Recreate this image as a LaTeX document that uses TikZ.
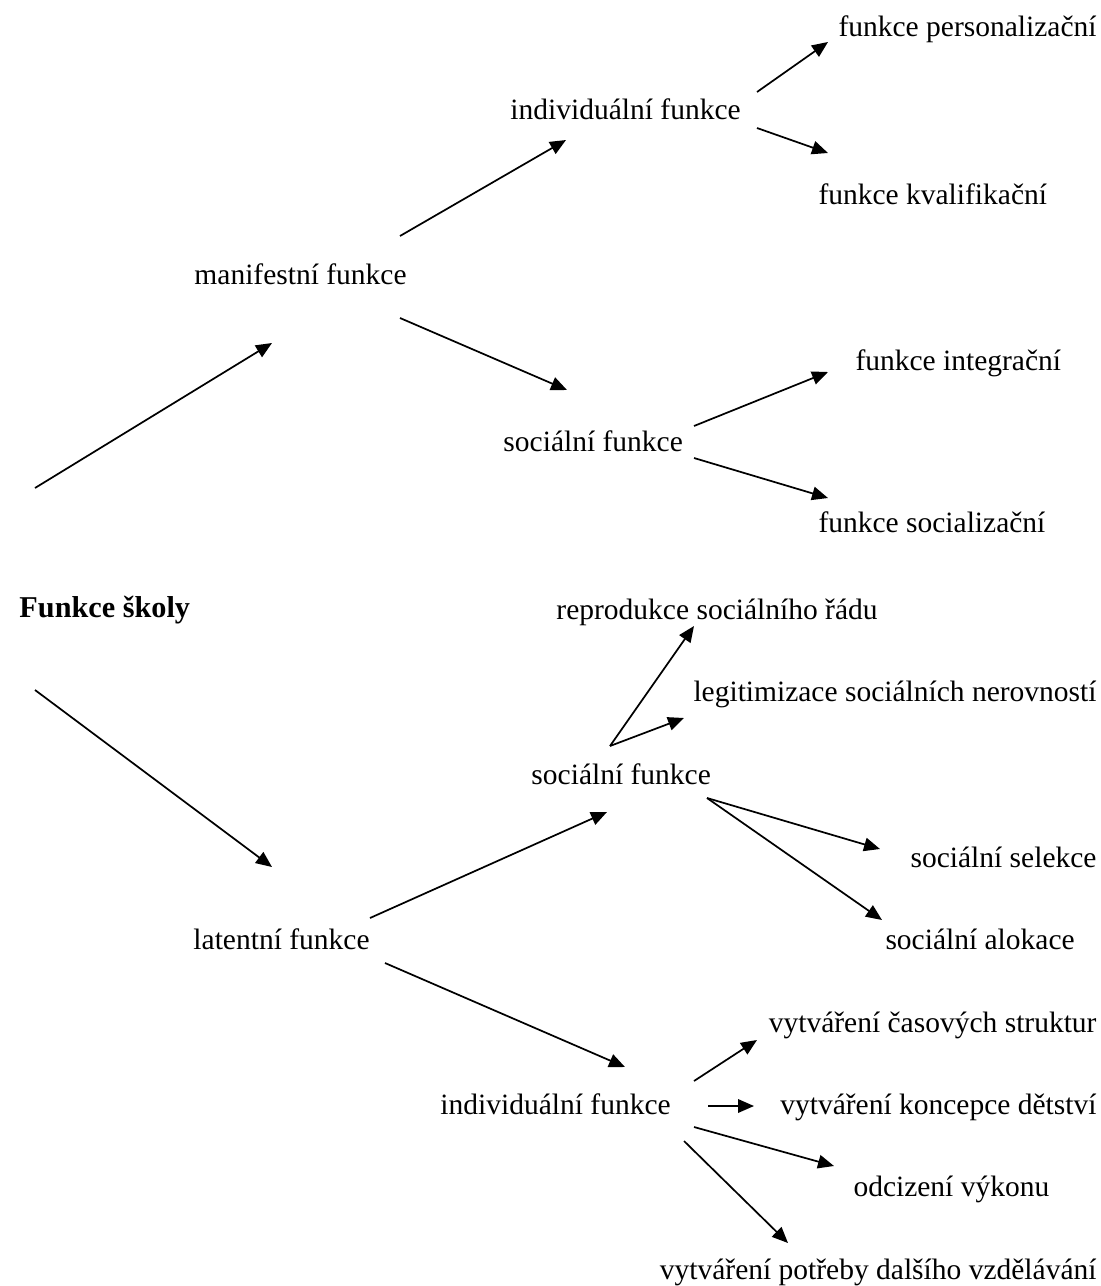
\documentclass[tikz,border=0pt]{standalone}
\usepackage{fontspec}
\setmainfont{Liberation Serif}
\usetikzlibrary{arrows.meta}

\begin{document}
\begin{tikzpicture}[
    % GLOBAL CFG
    x=0.0143cm, y=-0.0143cm,
    font=\fontsize{12}{14}\selectfont,
    >={Triangle[length=6.5pt,width=5.5pt]},
    % Styles
    lbl/.style={% text placed by its left end
        inner sep=0pt,
        anchor=base west,
        },
    lblr/.style={% text placed by its right end
        inner sep=0pt,
        anchor=base east,
        },
    root/.style={% the title
        lbl,
        font=\fontsize{12.3}{15}\selectfont\bfseries,
        },
    link/.style={% free arrows
        ->,
        line width=0.7pt,
        },
    ]

    \useasboundingbox (0,0) rectangle (1100,1286);

    % Root and main branches
    \node [root] (skola) at (19,617) {Funkce školy};
    \node [lbl] (manif) at (194,284) {manifestní funkce};
    \node [lbl] (latent) at (193,949) {latentní funkce};

    % Manifest side
    \node [lbl] (mindiv) at (510,119) {individuální funkce};
    \node [lbl] (msoc) at (503,451) {sociální funkce};
    \node [lblr] (person) at (1097,36) {funkce personalizační};
    \node [lbl] (kvalif) at (818,204) {funkce kvalifikační};
    \node [lbl] (integr) at (855,370) {funkce integrační};
    \node [lbl] (socializ) at (818,532) {funkce socializační};

    % Latent side
    \node [lbl] (lsoc) at (531,784) {sociální funkce};
    \node [lbl] (lindiv) at (440,1114) {individuální funkce};
    \node [lbl] (reprod) at (556,619) {reprodukce sociálního řádu};
    \node [lblr] (legit) at (1097,701) {legitimizace sociálních nerovností};
    \node [lblr] (selekce) at (1097,867) {sociální selekce};
    \node [lbl] (alokace) at (885,949) {sociální alokace};
    \node [lblr] (struktur) at (1097,1032) {vytváření časových struktur};
    \node [lblr] (detstvi) at (1097,1114) {vytváření koncepce dětství};
    \node [lbl] (odcizeni) at (853,1196) {odcizení výkonu};
    \node [lblr] (potreby) at (1097,1279) {vytváření potřeby dalšího vzdělávání};

    % Free ends of the arrows
    \coordinate (s1) at (35,488);   \coordinate (t1) at (272,343);
    \coordinate (s2) at (35,690);   \coordinate (t2) at (272,867);
    \coordinate (s3) at (400,236);  \coordinate (t3) at (566,140);
    \coordinate (s4) at (400,318);  \coordinate (t4) at (567,390);
    \coordinate (s5) at (757,92);   \coordinate (t5) at (828,42);
    \coordinate (s6) at (757,128);  \coordinate (t6) at (828,153);
    \coordinate (s7) at (694,426);  \coordinate (t7) at (828,372);
    \coordinate (s8) at (694,458);  \coordinate (t8) at (828,498);
    \coordinate (s9) at (370,918);  \coordinate (t9) at (607,812);
    \coordinate (s10) at (385,963); \coordinate (t10) at (625,1067);
    \coordinate (s11) at (610,746); \coordinate (t11) at (694,626);
    \coordinate (t12) at (684,718);
    \coordinate (s13) at (707,798); \coordinate (t13) at (880,849);
    \coordinate (t14) at (882,920);
    \coordinate (s15) at (694,1081); \coordinate (t15) at (757,1040);
    \coordinate (s16) at (708,1106); \coordinate (t16) at (754,1106);
    \coordinate (s17) at (694,1127); \coordinate (t17) at (834,1166);
    \coordinate (s18) at (684,1141); \coordinate (t18) at (788,1243);

    % Arrows
    \draw [link] (s1) -- (t1);
    \draw [link] (s2) -- (t2);
    \draw [link] (s3) -- (t3);
    \draw [link] (s4) -- (t4);
    \draw [link] (s5) -- (t5);
    \draw [link] (s6) -- (t6);
    \draw [link] (s7) -- (t7);
    \draw [link] (s8) -- (t8);
    \draw [link] (s9) -- (t9);
    \draw [link] (s10) -- (t10);
    \draw [link] (s11) -- (t11);
    \draw [link] (s11) -- (t12);
    \draw [link] (s13) -- (t13);
    \draw [link] (s13) -- (t14);
    \draw [link] (s15) -- (t15);
    \draw [link] (s16) -- (t16);
    \draw [link] (s17) -- (t17);
    \draw [link] (s18) -- (t18);

\end{tikzpicture}
\end{document}
